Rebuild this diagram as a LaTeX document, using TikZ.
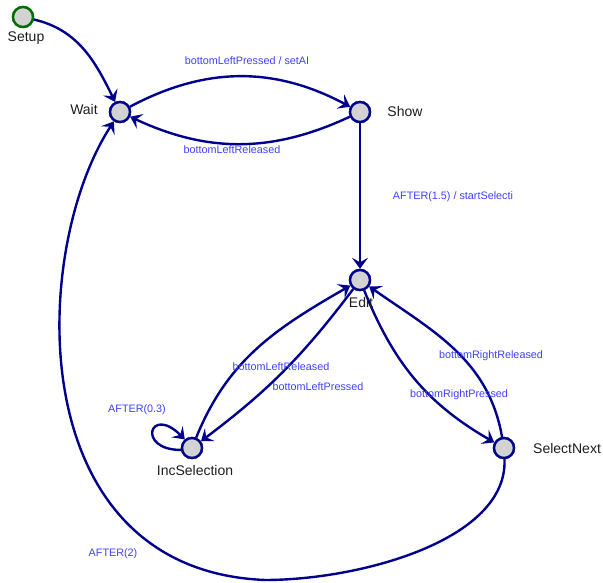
\documentclass[tikz,border=0pt]{standalone}
\usepackage{fontspec}
\setmainfont{Liberation Sans}
\usetikzlibrary{arrows.meta}
\definecolor{edgecol}{RGB}{0,0,140}
\definecolor{lblcol}{RGB}{64,64,255}
\definecolor{statefill}{RGB}{211,211,211}
\definecolor{initcol}{RGB}{0,110,0}
\definecolor{namecol}{RGB}{30,30,30}
\tikzset{
  state/.style={circle,draw=edgecol,fill=statefill,line width=2.4pt,minimum size=20pt,inner sep=0pt},
  initstate/.style={state,draw=initcol},
  plainedge/.style={draw=edgecol,line width=2.4pt},
  edge/.style={plainedge,-{Stealth[length=11pt,width=16pt,inset=4.5pt]}},
  sname/.style={anchor=base,text=namecol,inner sep=0pt,font=\fontsize{14}{16}\selectfont},
  elabel/.style={anchor=base,text=lblcol,inner sep=0pt,font=\fontsize{10.8}{12}\selectfont}
}
\begin{document}
\begin{tikzpicture}[x=1pt,y=1pt]
\useasboundingbox (0,0) rectangle (603,-583);
% states
\node[initstate] (setup) at (23,-17) {};
\node[state] (wait) at (120,-112) {};
\node[state] (show) at (360,-112) {};
\node[state] (edit) at (360,-280) {};
\node[state] (inc) at (192,-448) {};
\node[state] (sel) at (504,-448) {};
% edges
\draw[edge] (setup) to[out=-13,in=116] (wait);
\draw[edge] (wait) to[out=28,in=152] (show);
\draw[edge] (show) to[out=205,in=-25] (wait);
\draw[edge] (show) -- (edit);
\draw[edge] (edit) to[bend left=8] (inc);
\draw[edge] (inc) to[out=68,in=-150] (edit);
\draw[edge] (edit) to[out=-68,in=150] (sel);
\draw[edge] (sel) to[out=100,in=-35] (edit);
\draw[edge] (inc.190) .. controls +(-45,0) and +(-35,35) .. (inc.130);
\coordinate (bottom) at (265,-580);
\draw[plainedge] (sel) .. controls (508,-540) and (360,-580) .. (bottom);
\draw[edge] (bottom) .. controls (20,-570) and (30,-250) .. (wait);
% redraw states on top
\node[initstate] at (setup) {};
\node[state] at (wait) {};
\node[state] at (show) {};
\node[state] at (edit) {};
\node[state] at (inc) {};
\node[state] at (sel) {};
% state names
\node[sname] (lsetup) at (26,-42) {Setup};
\node[sname] (lwait) at (84,-115) {Wait};
\node[sname] (lshow) at (405,-117) {Show};
\node[sname] (ledit) at (361,-307) {Edit};
\node[sname] (linc) at (195,-475) {IncSelection};
\node[sname,anchor=base west] (lsel) at (533,-453) {SelectNext};
% edge labels
\node[elabel] (l1) at (247,-65) {bottomLeftPressed / setAI};
\node[elabel] (l2) at (232,-154) {bottomLeftReleased};
\node[elabel] (l3) at (453,-200) {AFTER(1.5) / startSelecti};
\node[elabel] (l4) at (281,-370) {bottomLeftReleased};
\node[elabel] (l5) at (318,-390) {bottomLeftPressed};
\node[elabel] (l6) at (137,-412) {AFTER(0.3)};
\node[elabel] (l7) at (491,-358) {bottomRightReleased};
\node[elabel] (l8) at (459,-397) {bottomRightPressed};
\node[elabel] (l9) at (113,-556) {AFTER(2)};
\end{tikzpicture}
\end{document}
